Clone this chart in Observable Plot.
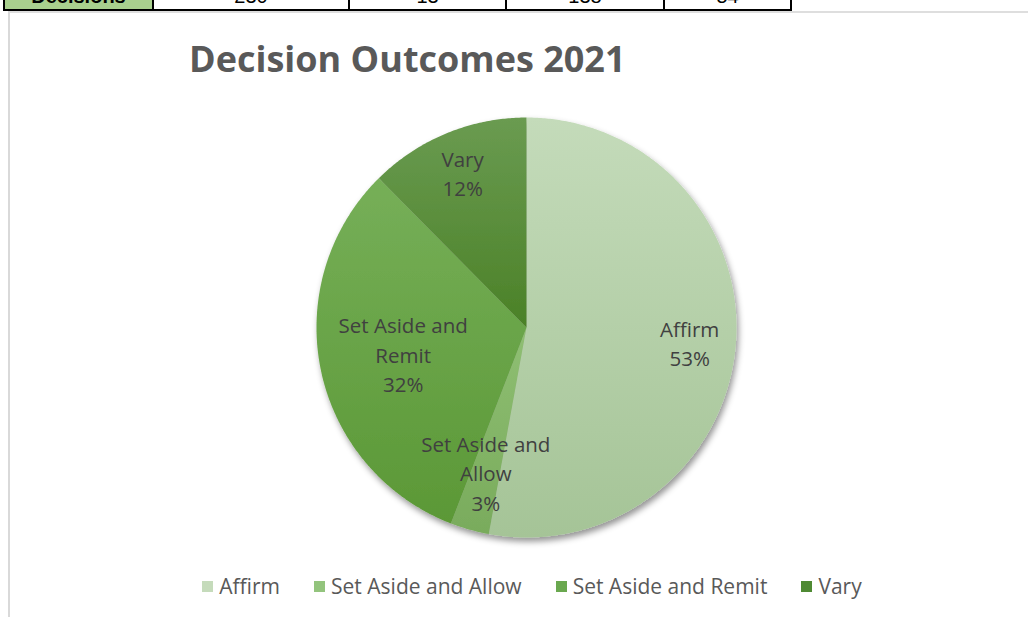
<!DOCTYPE html>
<html>
<head>
<meta charset="utf-8">
<script src="https://cdn.jsdelivr.net/npm/d3@7"></script>
<script src="https://cdn.jsdelivr.net/npm/@observablehq/plot@0.6"></script>
<style>
  html, body { margin: 0; padding: 0; background: #fff; }
  body { width: 1028px; height: 617px; position: relative; overflow: hidden; font-family: "Open Sans", sans-serif; }
  .cell { position: absolute; top: -14px; height: 23px; border-right: 2px solid #000; border-bottom: 2px solid #000;
          font-family: "Liberation Sans", Arial, sans-serif; font-size: 20px; line-height: 20px; text-align: center; color: #000; }
  #hline { position: absolute; left: 8px; top: 11px; width: 1020px; height: 2px; background: #dedede; }
  #vline { position: absolute; left: 8px; top: 11px; width: 2px; height: 606px; background: #d9d9d9; }
  #title { position: absolute; left: 189px; top: 34px; font-weight: 700; font-size: 36px; color: #595959; white-space: nowrap; letter-spacing: 0px; }
  #chart { position: absolute; left: 0; top: 90px; }
  #legend { position: absolute; left: 0; top: 572px; width: 1064px; display: flex; justify-content: center; gap: 34px; font-size: 21px; color: #595959; }
  .item { display: flex; align-items: center; white-space: nowrap; }
  .sw { width: 11px; height: 11px; margin-right: 6px; }
</style>
</head>
<body>
<div id="table"></div>
<div id="hline"></div>
<div id="vline"></div>
<div id="title"></div>
<div id="chart"></div>
<div id="legend"></div>
<script>
// ---- data ----
const categories = ["Affirm", "Set Aside and Allow", "Set Aside and Remit", "Vary"];
const decisions = [230, 13, 138, 54];
const rowLabel = "Decisions";
const titleText = "Decision Outcomes 2021";
const swatchColors = ["#c5dbbb", "#93c47d", "#6aa84f", "#4f8a33"];
const gradTop = ["#c4dbba", "#8fbf73", "#76af58", "#6a9b51"];
const gradBottom = ["#a5c497", "#79ab5c", "#5b9836", "#4b8127"];
const labelLines = [["Affirm"], ["Set Aside and", "Allow"], ["Set Aside and", "Remit"], ["Vary"]];

// ---- top table row (cropped) ----
const table = document.getElementById("table");
const colEdges = [5, 154, 350, 507, 665, 792];
const cellTexts = [rowLabel, ...decisions.map(String)];
cellTexts.forEach((t, i) => {
  const d = document.createElement("div");
  d.className = "cell";
  d.style.left = colEdges[i] + "px";
  d.style.width = (colEdges[i + 1] - colEdges[i] - 2) + "px";
  if (i === 0) { d.style.background = "#a9d08e"; d.style.fontWeight = "700"; d.style.borderLeft = "2px solid #000"; d.style.left = (colEdges[0] - 2) + "px"; }
  d.textContent = t;
  table.appendChild(d);
});

document.getElementById("title").textContent = titleText;

// ---- pie geometry from data ----
const total = d3.sum(decisions);
const arcs = d3.pie().sort(null).value(d => d)(decisions);
const pts = [];
arcs.forEach((a, i) => {
  const cat = categories[i];
  pts.push({cat, x: 0, y: 0});
  const n = Math.max(4, Math.ceil((a.endAngle - a.startAngle) / (Math.PI / 360)));
  for (let k = 0; k <= n; k++) {
    const t = a.startAngle + (a.endAngle - a.startAngle) * k / n;
    pts.push({cat, x: Math.sin(t), y: Math.cos(t)});
  }
  pts.push({cat, x: 0, y: 0});
});
const labelRadius = {"Affirm": 0.78, "Set Aside and Allow": 0.715, "Set Aside and Remit": 0.6, "Vary": 0.8};
const labels = arcs.map((a, i) => {
  const mid = (a.startAngle + a.endAngle) / 2;
  const r = labelRadius[categories[i]];
  return {
    cat: categories[i],
    x: r * Math.sin(mid),
    y: r * Math.cos(mid),
    text: [...labelLines[i], Math.round(decisions[i] / total * 100) + "%"].join("\n")
  };
});

const W = 1028, H = 480, R = 210, cx = 526, cy = 237;
const plot = Plot.plot({
  width: W, height: H,
  margin: 0,
  x: {domain: [-cx / R, (W - cx) / R], axis: null},
  y: {domain: [-(H - cy) / R, cy / R], axis: null},
  color: {domain: categories, range: categories.map((c, i) => `url(#grad${i})`)},
  style: {background: "transparent", overflow: "visible"},
  marks: [
    Plot.line(pts, {x: "x", y: "y", z: "cat", fill: "cat", stroke: "none", curve: "linear"}),
    Plot.text(labels, {x: "x", y: "y", text: "text", fill: "#404040", fontSize: 20.5, lineHeight: 1.44,
      lineAnchor: "middle", fontFamily: "Open Sans"})
  ]
});

// gradients + shadow
const ns = "http://www.w3.org/2000/svg";
const defs = document.createElementNS(ns, "defs");
let defsHtml = categories.map((c, i) =>
  `<linearGradient id="grad${i}" x1="0" y1="0" x2="0" y2="1"><stop offset="0" stop-color="${gradTop[i]}"/><stop offset="1" stop-color="${gradBottom[i]}"/></linearGradient>`).join("");
defsHtml += `<filter id="shadow" x="-10%" y="-10%" width="125%" height="125%"><feDropShadow dx="2" dy="4" stdDeviation="3" flood-color="#000" flood-opacity="0.42"/></filter>`;
defs.innerHTML = defsHtml;
plot.insertBefore(defs, plot.firstChild);
const lineG = plot.querySelector('g[aria-label="line"]');
if (lineG) lineG.setAttribute("filter", "url(#shadow)");
document.getElementById("chart").appendChild(plot);

// legend
const legend = document.getElementById("legend");
categories.forEach((c, i) => {
  const it = document.createElement("div");
  it.className = "item";
  it.innerHTML = `<span class="sw" style="background:${swatchColors[i]}"></span><span>${c}</span>`;
  legend.appendChild(it);
});
</script>
</body>
</html>
